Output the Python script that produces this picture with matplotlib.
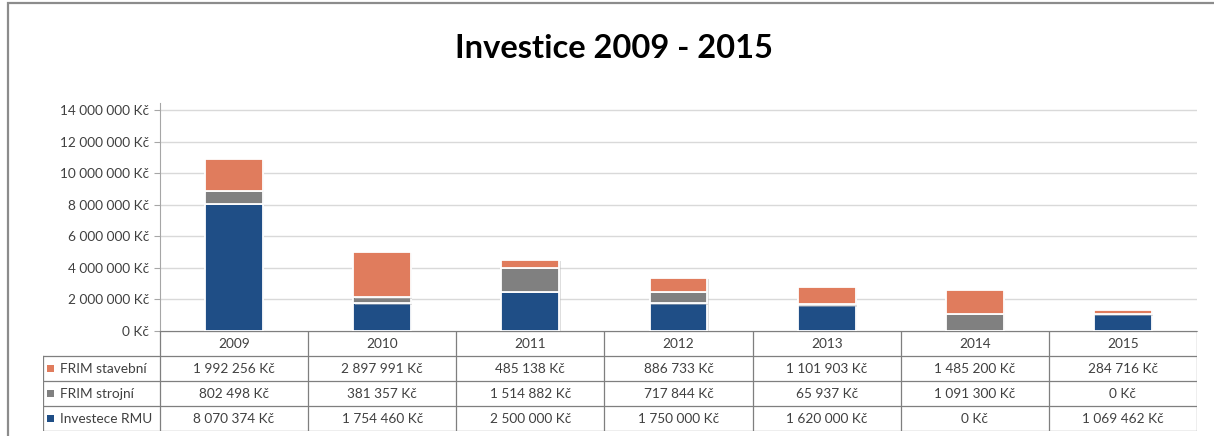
import numpy as np
import matplotlib
matplotlib.use('Agg')
import matplotlib.pyplot as plt
import matplotlib.patheffects as pe
from matplotlib.patches import Rectangle
from matplotlib.lines import Line2D

plt.rcParams['font.family'] = ['Lato', 'DejaVu Sans']

years = ['2009', '2010', '2011', '2012', '2013', '2014', '2015']
series_names = ['FRIM stavební', 'FRIM strojní', 'Investece RMU']
frim_stavebni = [1992256, 2897991, 485138, 886733, 1101903, 1485200, 284716]
frim_strojni = [802498, 381357, 1514882, 717844, 65937, 1091300, 0]
investice_rmu = [8070374, 1754460, 2500000, 1750000, 1620000, 0, 1069462]
colors = ['#E07C5D', '#808080', '#1F4E86']


def fmt_kc(v):
    return '{:,}'.format(int(v)).replace(',', ' ') + ' Kč'


W, H = 1214, 436
fig = plt.figure(figsize=(W / 100, H / 100), dpi=100)

def px(x0, y0, x1, y1):
    # pixel box (top-left origin) -> figure fraction
    return [x0 / W, 1 - y1 / H, (x1 - x0) / W, (y1 - y0) / H]

# outer border
fig.patches.append(Rectangle((8 / W, -0.1), 1.2, 1 - 3 / H + 0.1, transform=fig.transFigure,
                             fill=False, edgecolor='#8C8C8C', linewidth=1.6))

fig.text(614 / W, 1 - 48 / H, 'Investice 2009 - 2015', ha='center', va='center',
         fontsize=23.5, fontweight='bold', color='black')

ax = fig.add_axes(px(160, 103, 1197, 331))
x = np.arange(len(years))
ymax = 14e6 + 7 / 31.6 * 2e6
bottom = np.zeros(len(years))
stack = [(investice_rmu, colors[2]), (frim_strojni, colors[1]), (frim_stavebni, colors[0])]
shadow = [pe.SimplePatchShadow(offset=(1, -1), shadow_rgbFace='#BFBFBF', alpha=0.5), pe.Normal()]
for vals, c in stack:
    vals = np.array(vals, dtype=float)
    bars = ax.bar(x, vals, width=0.39, bottom=bottom, color=c, edgecolor='white', linewidth=1.3, zorder=3)
    for b in bars:
        b.set_path_effects(shadow)
    bottom += vals

ax.set_xlim(-0.5, len(years) - 0.5)
ax.set_ylim(0, ymax)
ax.set_yticks(np.arange(0, 14e6 + 1, 2e6))
ax.set_yticklabels([fmt_kc(v) for v in np.arange(0, 14e6 + 1, 2e6)], fontsize=9.8, color='#404040')
ax.set_xticks([])
ax.yaxis.grid(True, color='#D9D9D9', linewidth=1)
ax.set_axisbelow(True)
for s in ['top', 'right']:
    ax.spines[s].set_visible(False)
for s in ['left', 'bottom']:
    ax.spines[s].set_color('#A6A6A6')
ax.tick_params(axis='y', length=4, color='#A6A6A6', pad=4)

# data table
leg_w = 117 / 148.1
tab = fig.add_axes(px(43, 331, 1197, 431))
tab.set_xlim(-0.5 - leg_w, len(years) - 0.5)
tab.set_ylim(4, 0)
tab.axis('off')
lc = '#7F7F7F'
lw = 0.9
# horizontal lines
tab.add_line(Line2D([-0.5, len(years) - 0.5], [0, 0], color=lc, lw=lw))
for r in [1, 2, 3, 4]:
    tab.add_line(Line2D([-0.5 - leg_w, len(years) - 0.5], [r, r], color=lc, lw=lw))
# vertical lines
tab.add_line(Line2D([-0.5 - leg_w] * 2, [1, 4], color=lc, lw=lw))
for i in range(len(years) + 1):
    tab.add_line(Line2D([i - 0.5] * 2, [0, 4], color=lc, lw=lw))

for i, y in enumerate(years):
    tab.text(i, 0.5, y, ha='center', va='center', fontsize=9.8, color='#404040')

rows = [frim_stavebni, frim_strojni, investice_rmu]
for r, (name, vals, c) in enumerate(zip(series_names, rows, colors)):
    yc = r + 1.5
    tab.add_patch(Rectangle((-0.5 - leg_w + 4 / 148.1, yc - 0.14), 7 / 148.1, 0.28,
                            color=c, lw=0))
    tab.text(-0.5 - leg_w + 17 / 148.1, yc, name, ha='left', va='center', fontsize=9.8, color='#404040')
    for i, v in enumerate(vals):
        tab.text(i, yc, fmt_kc(v), ha='center', va='center', fontsize=9.8, color='#404040')

fig.savefig('out.png', dpi=100, facecolor='white')
